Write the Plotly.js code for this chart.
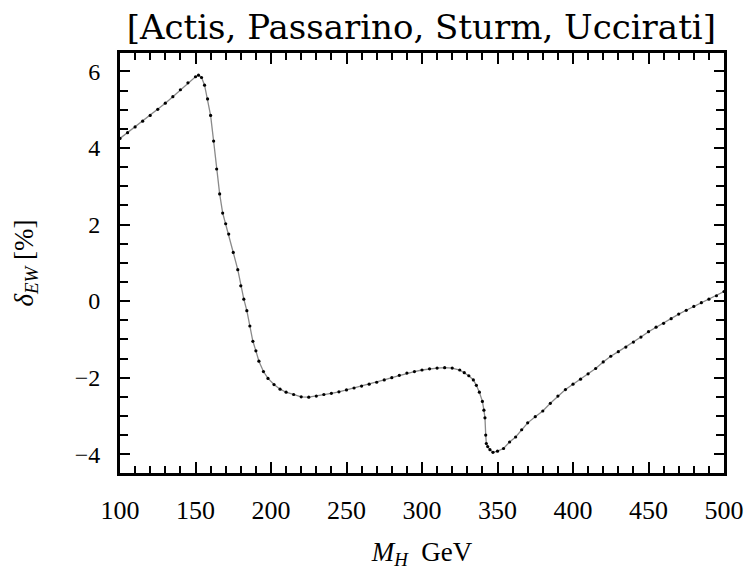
<!DOCTYPE html>
<html>
<head>
<meta charset="utf-8">
<script src="https://cdn.plot.ly/plotly-3.0.1.min.js"></script>
<style>html,body{margin:0;padding:0;background:#fff;}#plot{width:747px;height:571px;}</style>
</head>
<body>
<div id="plot"></div>
<script>
const massH = [100,105,110,115,120,125,130,135,140,145,150,152,154,156,158,160,162,164,166,168,170,172,175,178,180,182,184,186,188,190,192,195,198,202,206,210,215,220,225,230,235,240,245,250,255,260,265,270,275,280,285,290,295,300,305,310,315,320,325,328,331,334,336,338,340,341,341.7,342.2,342.6,343.5,345,347,350,354,358,362,366,370,375,380,385,390,395,400,405,410,415,420,425,430,435,440,445,450,455,460,465,470,475,480,485,490,495,500];
const deltaEW = [4.25,4.40,4.55,4.70,4.85,5.01,5.17,5.34,5.52,5.70,5.86,5.90,5.84,5.64,5.28,4.85,4.18,3.45,2.80,2.30,2.02,1.75,1.27,0.82,0.40,0.05,-0.25,-0.65,-1.05,-1.30,-1.57,-1.84,-2.02,-2.18,-2.30,-2.38,-2.44,-2.50,-2.51,-2.48,-2.44,-2.41,-2.37,-2.32,-2.27,-2.22,-2.17,-2.12,-2.06,-2.00,-1.94,-1.88,-1.84,-1.80,-1.77,-1.75,-1.74,-1.75,-1.80,-1.87,-1.95,-2.06,-2.20,-2.38,-2.62,-2.85,-3.05,-3.50,-3.72,-3.80,-3.88,-3.95,-3.92,-3.85,-3.68,-3.55,-3.36,-3.18,-3.02,-2.87,-2.67,-2.48,-2.31,-2.17,-2.04,-1.90,-1.76,-1.59,-1.44,-1.32,-1.20,-1.07,-0.94,-0.80,-0.68,-0.58,-0.46,-0.34,-0.24,-0.14,-0.04,0.05,0.14,0.25];
const titleText = "[Actis, Passarino, Sturm, Uccirati]";
const xTitle = "<i>M</i><sub><i>H</i></sub>  GeV";
const yTitle = "<i>δ</i><sub><i>EW</i></sub> [%]";

const serif = "Liberation Serif, DejaVu Serif, serif";
const trace = {
  x: massH, y: deltaEW, mode: "lines+markers", type: "scatter",
  line: {color: "#8a8a8a", width: 1.3},
  marker: {color: "#000", size: 3.2},
  showlegend: false, hoverinfo: "skip"
};
const axisCommon = {
  showline: true, linecolor: "#000", linewidth: 3, mirror: "ticks",
  ticks: "inside", tickcolor: "#000", tickwidth: 2,
  showgrid: false, zeroline: false
};
const layout = {
  width: 747, height: 571,
  margin: {l: 120, r: 23, t: 53, b: 98},
  paper_bgcolor: "#fff", plot_bgcolor: "#fff",
  title: {text: titleText, font: {family: "DejaVu Serif", size: 34, color: "#000"},
          x: 0.564, xref: "container", xanchor: "center", y: 0.952, yref: "container", yanchor: "middle"},
  xaxis: Object.assign({}, axisCommon, {
    range: [100, 500], tick0: 100, dtick: 50, ticklen: 11,
    minor: {dtick: 10, ticks: "inside", ticklen: 7, tickwidth: 2, tickcolor: "#000"},
    tickfont: {family: serif, size: 26, color: "#000"},
    ticklabelstandoff: 12,
    title: {text: xTitle, font: {family: serif, size: 27, color: "#000"}, standoff: 18}
  }),
  yaxis: Object.assign({}, axisCommon, {
    range: [-4.49, 6.48], tick0: 0, dtick: 2, ticklen: 10,
    minor: {dtick: 0.5, ticks: "inside", ticklen: 8, tickwidth: 2, tickcolor: "#000"},
    tickfont: {family: serif, size: 24, color: "#000"},
    ticklabelstandoff: 12,
    title: {text: yTitle, font: {family: serif, size: 27, color: "#000"}, standoff: 34}
  })
};
Plotly.newPlot("plot", [trace], layout, {staticPlot: true});
</script>
</body>
</html>
